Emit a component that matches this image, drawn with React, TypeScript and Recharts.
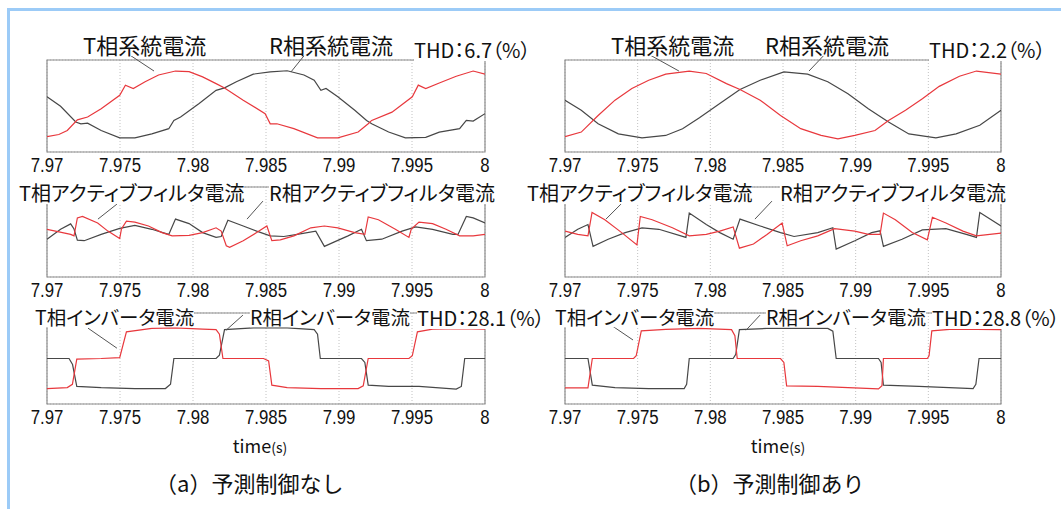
import React from 'react'
import { LineChart, Line, XAxis, YAxis, CartesianGrid, ReferenceArea, ReferenceLine } from 'recharts'

// time axis (s)
const timeTicks = [7.97, 7.975, 7.98, 7.985, 7.99, 7.995, 8]
const tickLabels = ['7.97', '7.975', '7.98', '7.985', '7.99', '7.995', '8']
const levelTicks = [-1, 0, 1]

// each series: [ms after 7.97 s, normalized current]
// (a) system currents, no prediction
const sysT_a: [number, number][] = [
  [0, -1.0], [0.81, -0.93], [1.39, -0.8], [2.08, -0.45], [2.78, -0.36], [3.71, -0.09], [4.98, 0.35], [5.37, 0.68],
  [5.91, 0.57], [6.72, 0.79], [7.64, 1.01], [8.8, 1.14], [9.73, 1.12], [10.66, 0.95], [11.58, 0.73], [12.16, 0.59],
  [13.44, 0.19], [14.94, -0.25], [15.29, -0.58], [15.75, -0.58], [16.91, -0.74], [18.53, -1.04], [19.92, -1.04],
  [21.31, -0.85], [22.0, -0.58], [22.24, -0.47], [23.63, -0.2], [25.02, 0.3], [25.43, 0.68], [25.94, 0.57],
  [26.87, 0.75], [28.03, 0.97], [29.19, 1.14], [30, 1.04],
]
const sysR_a: [number, number][] = [
  [0, 0.3], [0.93, -0.01], [1.97, -0.52], [2.32, -0.58], [2.78, -0.56], [3.71, -0.8], [4.98, -1.04], [6.02, -1.04],
  [7.18, -0.91], [8.34, -0.74], [8.69, -0.47], [9.15, -0.36], [10.42, 0.08], [11.58, 0.51], [12.16, 0.59],
  [12.97, 0.79], [14.13, 1.04], [15.29, 1.11], [16.45, 1.15], [17.6, 1.01], [18.3, 0.84], [18.76, 0.51],
  [19.11, 0.57], [19.92, 0.3], [21.08, -0.14], [21.89, -0.47], [22.24, -0.58], [23.4, -0.85], [24.55, -1.04],
  [25.94, -1.02], [26.87, -0.85], [28.26, -0.74], [28.72, -0.47], [29.19, -0.49], [30, -0.25],
]
// (b) system currents, with prediction
const sysT_b: [number, number][] = [
  [0, -1.0], [1.12, -0.85], [2.28, -0.31], [3.44, 0.19], [4.6, 0.57], [5.76, 0.84], [6.93, 1.04], [8.55, 1.14],
  [9.72, 1.06], [11.11, 0.73], [12.04, 0.54], [13.43, 0.19], [14.83, -0.31], [16.22, -0.74], [17.62, -0.96],
  [18.78, -1.07], [19.94, -0.96], [21.33, -0.8], [22.26, -0.47], [23.43, -0.14], [24.59, 0.24], [25.75, 0.64],
  [27.14, 0.97], [28.31, 1.14], [30, 1.04],
]
const sysR_b: [number, number][] = [
  [0, 0.19], [1.12, -0.14], [2.28, -0.58], [3.67, -0.91], [5.3, -1.04], [6.93, -0.96], [8.09, -0.74], [9.25, -0.38],
  [10.65, 0.08], [12.04, 0.54], [13.43, 0.84], [15.06, 1.11], [16.69, 1.04], [18.08, 0.79], [19.47, 0.4],
  [20.87, -0.09], [22.26, -0.52], [23.66, -0.91], [25.52, -1.04], [26.91, -0.91], [28.54, -0.63], [30, -0.14],
]
// (a) active filter currents
const afT_a: [number, number][] = [
  [0, 0.09], [0.58, 0.03], [1.62, -0.08], [1.85, -0.13], [2.08, 0.47], [2.43, 0.52], [3.47, 0.3], [4.17, 0.03],
  [4.98, -0.22], [5.1, 0.1], [5.44, 0.36], [6.02, 0.33], [6.95, 0.2], [7.88, -0.02], [8.57, -0.13], [9.73, -0.11],
  [10.66, -0.02], [11.58, 0.14], [11.93, 0.03], [12.28, -0.46], [12.51, -0.51], [13.44, -0.29], [14.36, -0.02],
  [15.06, 0.2], [15.4, -0.29], [15.98, -0.26], [16.91, -0.13], [18.07, 0.14], [19.0, 0.2], [19.92, 0.14],
  [21.08, -0.02], [21.77, -0.08], [22.0, 0.5], [22.7, 0.41], [23.86, 0.09], [24.79, -0.18], [24.95, 0.1],
  [25.48, 0.33], [26.41, 0.28], [27.33, 0.09], [28.26, -0.13], [29.19, -0.13], [30, -0.08],
]
const afR_a: [number, number][] = [
  [0, -0.24], [0.93, 0.09], [1.62, 0.27], [1.85, 0.1], [2.08, -0.27], [2.55, -0.29], [3.71, -0.08], [4.98, 0.12],
  [6.02, 0.22], [7.18, 0.09], [8.34, -0.08], [8.8, 0.43], [9.73, 0.28], [10.66, -0.02], [11.58, -0.18],
  [11.93, -0.15], [12.39, 0.39], [13.44, 0.2], [14.36, 0.03], [15.29, -0.13], [16.22, -0.15], [17.14, -0.08],
  [18.41, 0.03], [19.0, -0.48], [19.69, -0.33], [20.62, -0.13], [21.54, 0.09], [21.88, -0.29], [22.93, -0.24],
  [24.32, 0.03], [25.25, 0.17], [26.41, 0.09], [27.8, -0.08], [28.15, -0.08], [28.72, 0.52], [29.19, 0.47],
  [30, 0.3],
]
// (b) active filter currents
const afT_b: [number, number][] = [
  [0, 0.03], [0.88, -0.08], [1.58, -0.13], [1.86, 0.65], [2.74, 0.41], [3.9, -0.02], [4.95, -0.43], [5.18, 0.52],
  [6.0, 0.41], [7.39, 0.14], [8.55, -0.13], [9.72, -0.08], [10.65, 0.03], [11.57, 0.17], [12.0, -0.54],
  [12.97, -0.4], [13.9, -0.08], [14.94, 0.3], [15.29, -0.46], [16.22, -0.29], [17.39, -0.13], [18.55, 0.11],
  [19.94, 0.03], [20.87, -0.08], [21.68, -0.08], [21.91, 0.63], [22.73, 0.41], [23.89, -0.02], [24.93, -0.26],
  [25.28, 0.49], [26.21, 0.3], [27.38, 0.03], [28.31, -0.13], [30, -0.04],
]
const afR_b: [number, number][] = [
  [0, -0.18], [0.88, 0.09], [1.58, 0.25], [1.93, -0.48], [2.97, -0.24], [4.14, -0.02], [5.3, 0.14], [6.46, 0.09],
  [8.32, -0.18], [8.55, 0.63], [9.72, 0.25], [10.65, -0.02], [11.57, -0.24], [12.04, 0.43], [13.43, 0.2],
  [14.83, -0.02], [15.76, -0.15], [17.39, -0.02], [18.43, 0.14], [18.66, -0.57], [19.94, -0.29], [21.1, -0.02],
  [21.68, 0.04], [21.91, -0.48], [23.19, -0.24], [24.59, 0.07], [26.21, 0.11], [27.61, -0.08], [28.31, -0.18],
  [28.54, 0.65], [30, 0.2],
]
// (a) inverter currents
const invT_a: [number, number][] = [
  [0, -0.99], [1.39, -0.96], [1.74, -0.85], [2.04, -0.02], [3.71, 0], [4.98, 0.03], [5.44, 0.88], [7.18, 0.99],
  [8.8, 1.01], [10.66, 0.97], [11.58, 0.95], [11.81, 0.8], [12.05, 0], [14.83, 0], [15.18, -0.08], [15.4, -0.88],
  [16.45, -0.96], [18.76, -0.99], [21.31, -0.99], [21.66, -0.9], [22.0, 0], [24.79, 0], [25.02, 0.09],
  [25.37, 0.88], [26.41, 0.97], [28.2, 0.98], [30, 0.97],
]
const invR_a: [number, number][] = [
  [0, 0], [1.51, 0], [1.75, -0.2], [2.04, -0.92], [3.71, -0.96], [6.02, -0.99], [8.11, -0.99], [8.46, -0.85],
  [8.69, 0], [11.58, 0], [11.81, 0.11], [12.16, 0.95], [14.13, 1.01], [16.45, 1.01], [18.3, 0.95], [18.53, 0.8],
  [18.72, 0], [21.54, 0], [21.77, -0.13], [22.0, -0.88], [23.4, -0.92], [25.48, -0.92], [28.03, -1.01],
  [28.38, -0.92], [28.61, 0], [30, 0],
]
// (b) inverter currents
const invT_b: [number, number][] = [
  [0, -0.97], [1.58, -0.97], [1.88, 0], [4.72, 0], [4.9, 0.09], [5.25, 0.91], [6.93, 0.96], [9.25, 0.99],
  [11.46, 0.95], [11.69, 0.75], [11.85, 0], [14.83, 0], [15.06, -0.13], [15.25, -0.9], [17.39, -0.92],
  [21.57, -1.0], [21.81, -0.9], [21.91, 0], [24.93, 0], [25.05, 0.09], [25.24, 0.91], [26.68, 0.97], [30, 0.95],
]
const invR_b: [number, number][] = [
  [0, 0], [1.58, 0], [1.88, -0.88], [3.44, -0.96], [5.76, -0.99], [8.2, -0.99], [8.37, -0.85], [8.55, 0],
  [11.57, 0], [11.75, 0.14], [12.0, 0.95], [13.9, 0.99], [18.08, 0.99], [18.43, 0.9], [18.66, 0], [21.57, 0],
  [21.75, -0.13], [21.91, -0.88], [24.35, -0.92], [28.08, -0.99], [28.27, -0.85], [28.49, 0], [30, 0],
]

// leader lines from labels to curves: [t1, v1, t2, v2]
const sysLeaders_a = [[7.97555, 1.7, 7.97733, 1.14], [7.98781, 1.76, 7.98671, 1.11]]
const sysLeaders_b = [[7.97571, 1.7, 7.97784, 1.14], [7.98803, 1.76, 7.98679, 1.14]]
const afLeaders_a = [[7.97479, 0.93, 7.97349, 0.43], [7.98479, 1.03, 7.9837, 0.43]]
const afLeaders_b = [[7.97385, 0.93, 7.97282, 0.43], [7.98424, 1.03, 7.98307, 0.43]]
const invLeaders_a = [[7.97281, 1.0, 7.97479, 0.34], [7.98342, 1.43, 7.98226, 0.93]]
const invLeaders_b = [[7.97317, 1.1, 7.97468, 0.61], [7.98342, 1.43, 7.98245, 0.93]]

const JP = '"Noto Sans CJK JP", "Noto Sans", sans-serif'
const NUM = '"Liberation Sans", Arial, sans-serif'
const RED = '#e8383d'
const BLACK = '#474747'

const toPts = (s: [number, number][]) => s.map(([ms, v]) => ({ t: 7.97 + ms / 1000, v }))

// tall, narrow tick digits like the original plot
const NarrowTick = ({ x, y, payload }: any) => (
  <g transform={`translate(${x},${y})`}>
    <text transform="scale(0.82,1)" textAnchor="middle" dy="0.71em" fontSize={20.5} fill="#111" fontFamily={NUM}>
      {tickLabels[timeTicks.indexOf(payload.value)] ?? ''}
    </text>
  </g>
)

function Panel({ left, top, width, height, mLeft, mRight, mTop, tData, rData, leaders }: any) {
  return (
    <div style={{ position: 'absolute', left, top }}>
      <LineChart width={width} height={height} margin={{ top: mTop, right: mRight, bottom: 0, left: mLeft }}>
        <CartesianGrid stroke="#c2c2c2" strokeDasharray="1 2" />
        <XAxis
          type="number" dataKey="t" domain={[7.97, 8]} ticks={timeTicks} interval={0} allowDataOverflow
          height={23} axisLine={false} tickLine={false} tickSize={0} tickMargin={5} tick={<NarrowTick />}
        />
        <YAxis type="number" domain={[-1.5, 1.5]} ticks={levelTicks} width={0} tick={false} axisLine={false} tickLine={false} allowDataOverflow />
        <ReferenceArea x1={7.97} x2={8} y1={-1.5} y2={1.5} fill="none" stroke="#8c8c8c" strokeWidth={1.2} />
        <Line data={toPts(rData)} dataKey="v" type="linear" stroke={BLACK} strokeWidth={1.2} dot={false} isAnimationActive={false} />
        <Line data={toPts(tData)} dataKey="v" type="linear" stroke={RED} strokeWidth={1.2} dot={false} isAnimationActive={false} />
        {leaders.map((l: number[], i: number) => (
          <ReferenceLine key={i} segment={[{ x: l[0], y: l[1] }, { x: l[2], y: l[3] }]} stroke="#555" strokeWidth={1} ifOverflow="visible" />
        ))}
      </LineChart>
    </div>
  )
}

const Lbl = ({ x, y, size = 20, palt = true, children }: any) => (
  <div style={{
    position: 'absolute', left: x, top: y, transform: 'translateY(-50%)', fontSize: size, lineHeight: 1.1,
    background: '#fff', whiteSpace: 'nowrap', fontFamily: JP, color: '#111',
    fontFeatureSettings: palt ? '"palt"' : 'normal',
  }}>{children}</div>
)

const TimeTitle = ({ cx }: { cx: number }) => (
  <div style={{ position: 'absolute', left: cx, top: 445, transform: 'translate(-50%, -50%)', fontFamily: JP, color: '#111', whiteSpace: 'nowrap' }}>
    <span style={{ fontSize: 18 }}>time</span><span style={{ fontSize: 14 }}>(s)</span>
  </div>
)

export default function App() {
  const L = { left: 0, width: 530, mLeft: 47, mRight: 45 }
  const R = { left: 530, width: 531, mLeft: 35, mRight: 60 }
  return (
    <div style={{ position: 'absolute', left: 0, top: 0, width: 1061, height: 509, background: '#fff', overflow: 'hidden' }}>
      <div style={{ position: 'absolute', left: 7, top: 8, right: 0, bottom: 0, borderLeft: '3px solid #9ccbf7', borderTop: '3px solid #9ccbf7' }} />

      <Panel {...L} top={0} height={175} mTop={60} tData={sysT_a} rData={sysR_a} leaders={sysLeaders_a} />
      <Panel {...R} top={0} height={175} mTop={60} tData={sysT_b} rData={sysR_b} leaders={sysLeaders_b} />
      <Panel {...L} top={180} height={120} mTop={7} tData={afT_a} rData={afR_a} leaders={afLeaders_a} />
      <Panel {...R} top={180} height={120} mTop={7} tData={afT_b} rData={afR_b} leaders={afLeaders_b} />
      <Panel {...L} top={300} height={127} mTop={13} tData={invT_a} rData={invR_a} leaders={invLeaders_a} />
      <Panel {...R} top={300} height={127} mTop={13} tData={invT_b} rData={invR_b} leaders={invLeaders_b} />

      <Lbl x={83} y={44} size={22}>T相系統電流</Lbl>
      <Lbl x={269} y={44} size={22}>R相系統電流</Lbl>
      <Lbl x={414} y={50}>THD：6.7（%）</Lbl>
      <Lbl x={611} y={44} size={22}>T相系統電流</Lbl>
      <Lbl x={765} y={44} size={22}>R相系統電流</Lbl>
      <Lbl x={929} y={50}>THD：2.2（%）</Lbl>

      <Lbl x={19} y={193}>T相アクティブフィルタ電流</Lbl>
      <Lbl x={269} y={193}>R相アクティブフィルタ電流</Lbl>
      <Lbl x={527} y={193}>T相アクティブフィルタ電流</Lbl>
      <Lbl x={780} y={193}>R相アクティブフィルタ電流</Lbl>

      <Lbl x={35} y={317} size={19.5}>T相インバータ電流</Lbl>
      <Lbl x={250} y={317} size={19.5}>R相インバータ電流</Lbl>
      <Lbl x={417} y={318}>THD：28.1（%）</Lbl>
      <Lbl x={555} y={317} size={19.5}>T相インバータ電流</Lbl>
      <Lbl x={766} y={317} size={19.5}>R相インバータ電流</Lbl>
      <Lbl x={932} y={318}>THD：28.8（%）</Lbl>

      <TimeTitle cx={260} />
      <TimeTitle cx={778} />
      <Lbl x={155} y={482} size={22} palt={false}>（a）予測制御なし</Lbl>
      <Lbl x={675} y={482} size={22} palt={false}>（b）予測制御あり</Lbl>
    </div>
  )
}
